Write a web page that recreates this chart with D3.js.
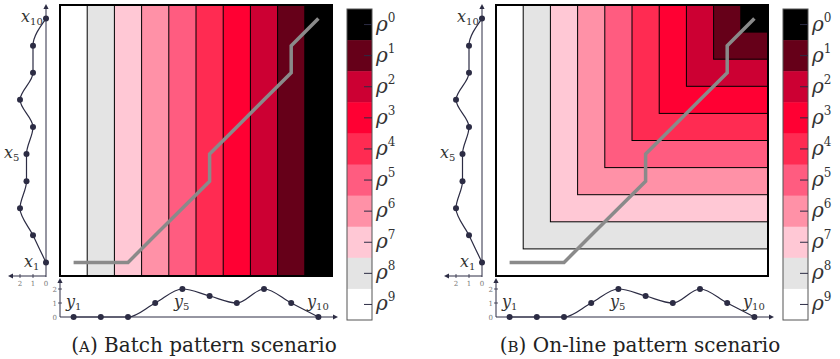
<!DOCTYPE html>
<html>
<head>
<meta charset="utf-8">
<script src="https://cdn.jsdelivr.net/npm/d3@7/dist/d3.min.js"></script>
<style>
  html, body { margin: 0; padding: 0; background: #ffffff; }
  svg { display: block; }
</style>
</head>
<body>
<svg id="chart" width="840" height="359" font-family="'DejaVu Serif', 'Liberation Serif', serif"></svg>
<script>
// Two sequences compared by the warping grid
const xSeries = [0, 1, 2, 1.5, 1.5, 1, 2, 1, 1, 0];
const ySeries = [0, 0, 0, 1, 2, 1.5, 1, 2, 1, 0];

// Warping path through the grid (column = y index, row = x index)
const pathCols = [0, 1, 2, 3, 4, 5, 5, 6, 7, 8, 8, 9];
const pathRows = [0, 0, 0, 1, 2, 3, 4, 5, 6, 7, 8, 9];

// Weight levels rho^0 ... rho^9
const levelExponents = ["0", "1", "2", "3", "4", "5", "6", "7", "8", "9"];
const levelColors = ["#000000", "#660019", "#cc0033", "#ff0033", "#ff2b52",
                     "#ff5c80", "#ff91a7", "#ffc8d5", "#e4e4e4", "#ffffff"];

const valueTicks = [0, 1, 2];
const seriesLabels = [1, 5, 10];

const panels = [
  { key: "A", title: " Batch pattern scenario", mode: "batch", dx: 0 },
  { key: "B", title: " On-line pattern scenario", mode: "online", dx: 436 }
];

const ink = "#2c2c44";
const svg = d3.select("#chart");
const idx = d3.range(10);

function arrowHead(g, tipX, tipY, dir) {
  // small filled triangle pointing in direction dir
  const s = 5, w = 2.6;
  let pts;
  if (dir === "up") pts = [[tipX, tipY], [tipX - w, tipY + s], [tipX + w, tipY + s]];
  else if (dir === "left") pts = [[tipX, tipY], [tipX + s, tipY - w], [tipX + s, tipY + w]];
  else pts = [[tipX, tipY], [tipX - s, tipY - w], [tipX - s, tipY + w]];
  g.append("path").attr("d", d3.line()(pts) + "Z").attr("fill", ink);
}

function drawPanel(p) {
  const g = svg.append("g").attr("transform", `translate(${p.dx},0)`);
  const left = 60, right = 332, top = 5, bottom = 276;
  const col = d3.scaleBand().domain(idx).range([left, right]);
  const row = d3.scaleBand().domain(idx).range([bottom, top]);
  const bw = col.bandwidth();

  // Nested regions, widest (rho^9) first
  for (let k = 9; k >= 0; k--) {
    const x = col(9 - k);
    const yBottom = p.mode === "batch" ? bottom : row(9 - k) + row.bandwidth();
    g.append("rect")
      .attr("x", x).attr("y", top)
      .attr("width", right - x).attr("height", yBottom - top)
      .attr("fill", levelColors[k])
      .attr("stroke", "#000").attr("stroke-width", 1);
  }
  g.append("rect")
    .attr("x", left).attr("y", top)
    .attr("width", right - left).attr("height", bottom - top)
    .attr("fill", "none").attr("stroke", "#000").attr("stroke-width", 2);

  // Warping path
  const pathPts = pathCols.map((c, i) => [col(c) + bw / 2, row(pathRows[i]) + row.bandwidth() / 2]);
  g.append("path")
    .attr("d", d3.line()(pathPts))
    .attr("fill", "none").attr("stroke", "#8a8a8a")
    .attr("stroke-width", 3.5).attr("stroke-linejoin", "miter");

  // ---- x series, drawn vertically on the left ----
  const vx = d3.scaleLinear().domain([0, 2]).range([46, 20]);
  const axX = g.append("g");
  axX.append("line").attr("x1", vx(0)).attr("x2", vx(0)).attr("y1", bottom + 1).attr("y2", top + 4)
    .attr("stroke", ink).attr("stroke-width", 1);
  arrowHead(axX, vx(0), top - 1, "up");
  axX.append("line").attr("x1", vx(0)).attr("x2", 13).attr("y1", bottom).attr("y2", bottom)
    .attr("stroke", ink).attr("stroke-width", 1);
  arrowHead(axX, 8, bottom, "left");
  valueTicks.forEach(t => {
    if (t > 0) axX.append("line").attr("x1", vx(t)).attr("x2", vx(t)).attr("y1", bottom - 2).attr("y2", bottom + 2)
      .attr("stroke", ink).attr("stroke-width", 0.8);
    axX.append("text").attr("x", vx(t)).attr("y", bottom + 10)
      .attr("text-anchor", "middle").attr("font-size", 7).attr("fill", "#777").text(t);
  });
  const xPts = xSeries.map((v, j) => [vx(v), row(j) + row.bandwidth() / 2]);
  axX.append("path").attr("d", d3.line().curve(d3.curveMonotoneY)(xPts))
    .attr("fill", "none").attr("stroke", ink).attr("stroke-width", 1.2);
  axX.selectAll("circle").data(xPts).join("circle")
    .attr("cx", d => d[0]).attr("cy", d => d[1]).attr("r", 3).attr("fill", ink);
  // x labels
  const xLabelPos = { 1: [24, 267], 5: [4, 158], 10: [21, 22] };
  seriesLabels.forEach(n => {
    const t = axX.append("text").attr("x", xLabelPos[n][0]).attr("y", xLabelPos[n][1])
      .attr("font-size", 16).attr("fill", "#333");
    t.append("tspan").attr("font-style", "italic").text("x");
    t.append("tspan").attr("font-size", 10).attr("dy", 3).text(n);
  });

  // ---- y series, drawn horizontally below ----
  const vy = d3.scaleLinear().domain([0, 2]).range([317, 289]);
  const axY = g.append("g");
  axY.append("line").attr("x1", left).attr("x2", left).attr("y1", vy(0)).attr("y2", 283)
    .attr("stroke", ink).attr("stroke-width", 1);
  arrowHead(axY, left, 278, "up");
  axY.append("line").attr("x1", left).attr("x2", 333).attr("y1", vy(0)).attr("y2", vy(0))
    .attr("stroke", ink).attr("stroke-width", 1);
  arrowHead(axY, 338, vy(0), "right");
  valueTicks.forEach(t => {
    if (t > 0) axY.append("line").attr("x1", left - 2).attr("x2", left + 2).attr("y1", vy(t)).attr("y2", vy(t))
      .attr("stroke", ink).attr("stroke-width", 0.8);
    axY.append("text").attr("x", left - 3).attr("y", vy(t) + 3)
      .attr("text-anchor", "end").attr("font-size", 7).attr("fill", "#777").text(t);
  });
  const yPts = ySeries.map((v, i) => [col(i) + bw / 2, vy(v)]);
  axY.append("path").attr("d", d3.line().curve(d3.curveMonotoneX)(yPts))
    .attr("fill", "none").attr("stroke", ink).attr("stroke-width", 1.2);
  axY.selectAll("circle").data(yPts).join("circle")
    .attr("cx", d => d[0]).attr("cy", d => d[1]).attr("r", 3).attr("fill", ink);
  const yLabelPos = { 1: [66, 307], 5: [174, 307], 10: [307, 307] };
  seriesLabels.forEach(n => {
    const t = axY.append("text").attr("x", yLabelPos[n][0]).attr("y", yLabelPos[n][1])
      .attr("font-size", 16).attr("fill", "#333");
    t.append("tspan").attr("font-style", "italic").text("y");
    t.append("tspan").attr("font-size", 10).attr("dy", 3).text(n);
  });

  // ---- colour bar ----
  const cb = d3.scaleBand().domain(idx).range([9, 320]);
  const cbX = 347, cbW = 25;
  const cbg = g.append("g");
  cbg.selectAll("rect.level").data(idx).join("rect")
    .attr("class", "level")
    .attr("x", cbX).attr("y", k => cb(k))
    .attr("width", cbW).attr("height", cb.bandwidth() + 0.5)
    .attr("fill", k => levelColors[k]);
  cbg.append("rect").attr("x", cbX).attr("y", 9).attr("width", cbW).attr("height", 311)
    .attr("fill", "none").attr("stroke", "#555").attr("stroke-width", 1);
  cbg.selectAll("line.tick").data(idx).join("line")
    .attr("class", "tick")
    .attr("x1", cbX + cbW - 8).attr("x2", cbX + cbW)
    .attr("y1", k => cb(k) + cb.bandwidth() / 2).attr("y2", k => cb(k) + cb.bandwidth() / 2)
    .attr("stroke", ink).attr("stroke-width", 1);
  idx.forEach(k => {
    const yc = cb(k) + cb.bandwidth() / 2;
    const t = cbg.append("text").attr("x", cbX + cbW + 4).attr("y", yc + 6)
      .attr("font-size", 20).attr("fill", "#333");
    t.append("tspan").attr("font-style", "italic").text("ρ");
    t.append("tspan").attr("font-size", 12).attr("dy", -9).text(levelExponents[k]);
  });

  // ---- caption ----
  const cap = g.append("text").attr("x", 204).attr("y", 352)
    .attr("text-anchor", "middle").attr("font-size", 20).attr("fill", "#222");
  cap.append("tspan").text("(");
  cap.append("tspan").attr("font-size", 15).text(p.key);
  cap.append("tspan").text(")" + p.title);
}

panels.forEach(drawPanel);
</script>
</body>
</html>
